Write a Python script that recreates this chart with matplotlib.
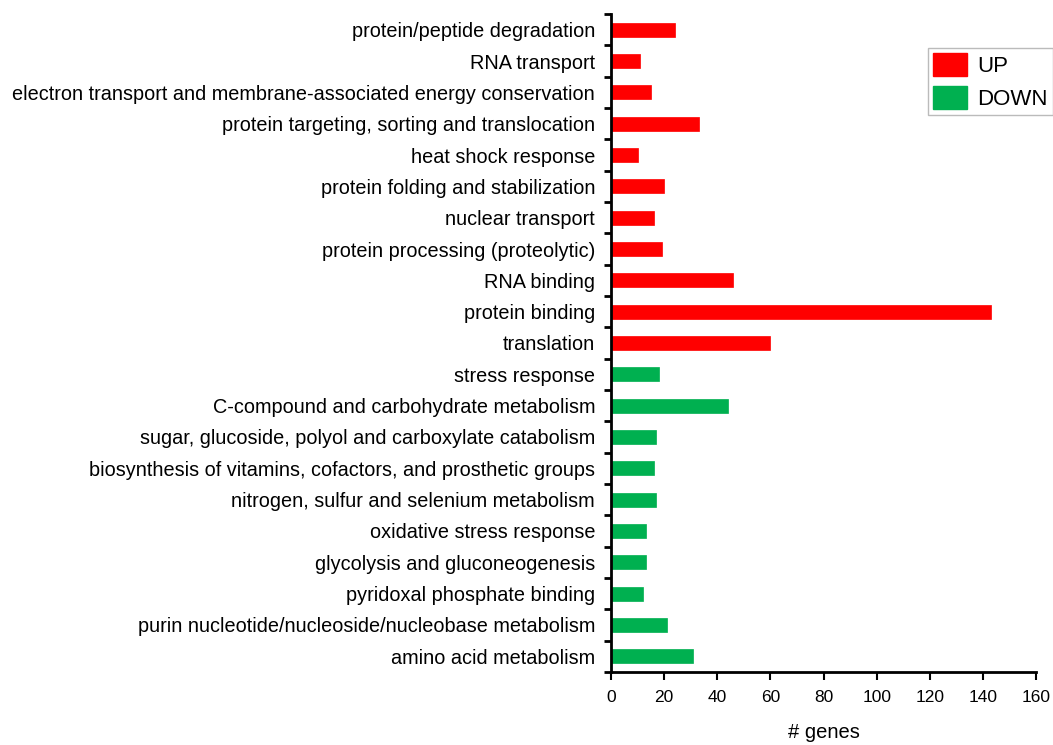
import matplotlib.pyplot as plt
from matplotlib.patches import Patch

plt.rcParams['font.family'] = ['Liberation Sans', 'DejaVu Sans']

# categories listed top to bottom
categories = [
    "protein/peptide degradation",
    "RNA transport",
    "electron transport and membrane-associated energy conservation",
    "protein targeting, sorting and translocation",
    "heat shock response",
    "protein folding and stabilization",
    "nuclear transport",
    "protein processing (proteolytic)",
    "RNA binding",
    "protein binding",
    "translation",
    "stress response",
    "C-compound and carbohydrate metabolism",
    "sugar, glucoside, polyol and carboxylate catabolism",
    "biosynthesis of vitamins, cofactors, and prosthetic groups",
    "nitrogen, sulfur and selenium metabolism",
    "oxidative stress response",
    "glycolysis and gluconeogenesis",
    "pyridoxal phosphate binding",
    "purin nucleotide/nucleoside/nucleobase metabolism",
    "amino acid metabolism",
]
genes = [24, 11, 15, 33, 10, 20, 16, 19, 46, 143, 60,
         18, 44, 17, 16, 17, 13, 13, 12, 21, 31]
direction = ["UP"] * 11 + ["DOWN"] * 10

colors = {"UP": "#FF0000", "DOWN": "#00B050"}

fig = plt.figure(figsize=(10.53, 7.45), dpi=100)
ax = fig.add_axes([0.5803, 0.098, 0.4036, 0.8832])

n = len(categories)
ypos = [n - 1 - i for i in range(n)]
ax.barh(ypos, genes, height=0.44,
        color=[colors[d] for d in direction],
        edgecolor=[colors[d] for d in direction], linewidth=0.5)

ax.set_xlim(0, 160)
ax.set_ylim(-0.5, n - 0.5)
ax.set_xticks(range(0, 161, 20))
ax.set_yticks(ypos)
ax.set_yticklabels(categories, fontsize=14.3)
ax.set_yticks([k - 0.5 for k in range(n + 1)], minor=True)
ax.tick_params(axis='y', which='major', length=0, pad=11.5)
ax.tick_params(axis='y', which='minor', length=5, width=2)
ax.tick_params(axis='x', length=6, width=1.5, labelsize=12.5, pad=7)

for s in ['top', 'right']:
    ax.spines[s].set_visible(False)
ax.spines['left'].set_linewidth(2)
ax.spines['bottom'].set_linewidth(2)

ax.set_xlabel("# genes", fontsize=14.5, labelpad=13)

handles = [Patch(facecolor=colors["UP"], edgecolor=colors["UP"], label="UP"),
           Patch(facecolor=colors["DOWN"], edgecolor=colors["DOWN"], label="DOWN")]
fig.legend(handles=handles, loc='upper left',
           bbox_to_anchor=(928 / 1053, 1 - 48 / 745),
           fontsize=16, frameon=True, fancybox=False, edgecolor='#AAAAAA',
           handlelength=1.55, handleheight=1.25, handletextpad=0.45,
           borderpad=0.22, borderaxespad=0, labelspacing=0.38)

fig.savefig("out.png", dpi=100)
